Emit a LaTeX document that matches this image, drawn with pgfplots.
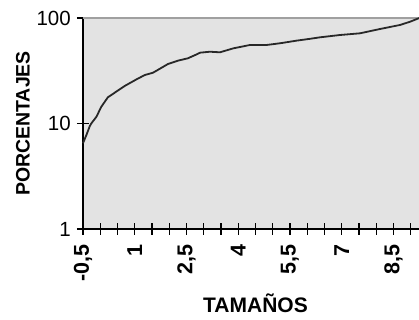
\documentclass[border=0pt]{standalone}
\usepackage{pgfplots}
\pgfplotsset{compat=1.18}
\usepackage{fontspec}
\setmainfont{Liberation Sans}
\definecolor{plotbg}{RGB}{227,227,227}
\definecolor{topline}{RGB}{160,160,160}
\definecolor{curve}{RGB}{40,40,40}
\begin{document}
\begin{tikzpicture}
\useasboundingbox (0,0) rectangle (419bp,320bp);
\begin{axis}[
  at={(83bp,91bp)}, anchor=south west,
  scale only axis,
  width=345bp, height=211bp,
  xmin=-0.5, xmax=9.5,
  ymode=log, ymin=1, ymax=100,
  axis x line=bottom, axis y line=left,
  axis line style={-, black, line width=1.3bp},
  axis background/.style={fill=plotbg},
  xtick={-0.5,1,2.5,4,5.5,7,8.5},
  xticklabels={{-0,5},1,{2,5},4,{5,5},7,{8,5}},
  minor xtick={0,0.5,1.5,2,3,3.5,4.5,5,6,6.5,7.5,8,9,9.5},
  ytick={1,10,100},
  yticklabels={1,10,100},
  yminorticks=false,
  tick align=center,
  major tick length=12bp, minor tick length=12bp,
  tick style={black, line width=1.3bp},
  xticklabel style={rotate=90, anchor=east, font=\fontsize{21.5bp}{24bp}\selectfont\bfseries, inner sep=2bp},
  yticklabel style={font=\fontsize{20.5bp}{24bp}\selectfont, inner sep=2bp},
  xticklabel shift=7bp,
  yticklabel shift=4bp,
  xlabel={TAMAÑOS},
  ylabel={PORCENTAJES},
  xlabel style={at={(axis description cs:0.5,-0.398)}, anchor=base, font=\fontsize{21bp}{24bp}\selectfont\bfseries},
  ylabel style={at={(axis description cs:-0.174,0.5)}, anchor=center, rotate=0, font=\fontsize{19.5bp}{24bp}\selectfont\bfseries},
  clip=false,
]
\draw[topline, line width=1.3bp] (rel axis cs:0,1) -- (rel axis cs:1,1);
\addplot[curve, line width=1.8bp, no marks] coordinates {
(-0.5,6.5) (-0.4,7.8) (-0.3,9.5) (-0.26,10) (-0.11,11.6) (0.03,14.4)
(0.22,17.7) (0.42,19.6) (0.71,22.7) (1.05,26.2) (1.29,28.8) (1.53,30.3)
(1.96,36.6) (2.25,39.4) (2.54,41.5) (2.78,45) (2.89,46.9) (3.18,47.9)
(3.47,47.3) (3.86,51.6) (4.34,55.5) (4.82,55.5) (5.21,57.6) (5.69,61)
(6.08,63.5) (6.37,65.6) (6.95,69) (7.53,71.6) (8.11,78.7) (8.69,85.9)
(8.98,92.2) (9.25,100)
};
\end{axis}
\end{tikzpicture}
\end{document}
